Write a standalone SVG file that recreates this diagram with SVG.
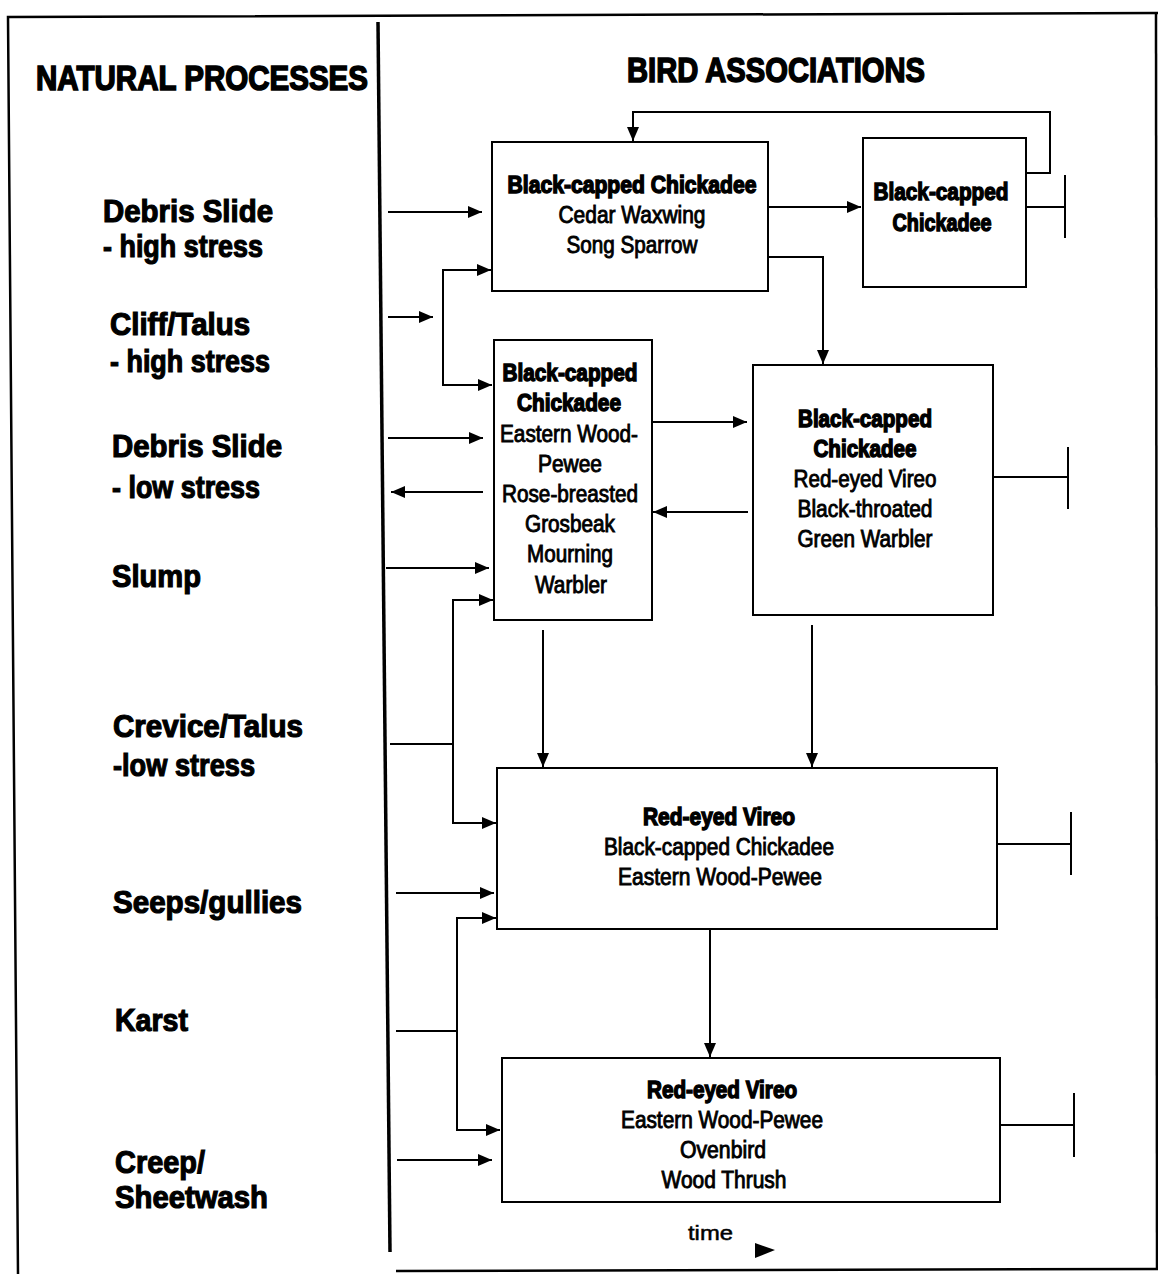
<svg xmlns="http://www.w3.org/2000/svg" width="1158" height="1274" viewBox="0 0 1158 1274">
  <style>
    .frame { fill: none; stroke: #000; stroke-width: 2.5; }
    .divider { fill: none; stroke: #000; stroke-width: 3.5; }
    .box { fill: #fff; stroke: #000; stroke-width: 2; }
    .conn { fill: none; stroke: #000; stroke-width: 2; }
    .hd { font-family: "Liberation Sans", Arial, sans-serif; font-weight: bold; font-size: 35px; fill: #000; stroke: #000; stroke-width: 1.6; }
    .lbl { font-family: "Liberation Sans", Arial, sans-serif; font-weight: bold; font-size: 32px; fill: #000; stroke: #000; stroke-width: 1.2; }
    .bh { font-family: "Liberation Sans", Arial, sans-serif; font-weight: bold; font-size: 23px; fill: #000; stroke: #000; stroke-width: 1.4; text-anchor: middle; }
    .br { font-family: "Liberation Sans", Arial, sans-serif; font-weight: normal; font-size: 23px; fill: #000; stroke: #000; stroke-width: 0.9; text-anchor: middle; }
    .tm { font-family: "Liberation Sans", Arial, sans-serif; font-weight: normal; font-size: 21px; fill: #000; stroke: #000; stroke-width: 0.5; }
  </style>
  <defs>
    <marker id="arrow" viewBox="0 0 14 12" refX="14" refY="6" markerWidth="14" markerHeight="12" markerUnits="userSpaceOnUse" orient="auto">
      <path d="M0,0 L14,6 L0,12 z" fill="#000"/>
    </marker>
  </defs>

  <rect x="0" y="0" width="1158" height="1274" fill="#fff"/>

  <!-- outer frame and column divider -->
  <g id="frame">
    <path class="frame" d="M18,1274 L8,17 L1158,13"/>
    <path class="frame" d="M1156,13 L1157,1268"/>
    <path class="frame" d="M396,1271 L1158,1269"/>
    <path class="divider" d="M378,22 L390,1252"/>
  </g>

  <!-- column headings -->
  <g id="headings">
    <text class="hd" x="36" y="90" textLength="332" lengthAdjust="spacingAndGlyphs">NATURAL PROCESSES</text>
    <text class="hd" x="627" y="82" textLength="298" lengthAdjust="spacingAndGlyphs">BIRD ASSOCIATIONS</text>
  </g>

  <!-- natural process labels -->
  <g id="proc-debris-high">
    <text class="lbl" x="103" y="222" textLength="170" lengthAdjust="spacingAndGlyphs">Debris Slide</text>
    <text class="lbl" x="103" y="257" textLength="160" lengthAdjust="spacingAndGlyphs">- high stress</text>
  </g>
  <g id="proc-cliff">
    <text class="lbl" x="110" y="335" textLength="140" lengthAdjust="spacingAndGlyphs">Cliff/Talus</text>
    <text class="lbl" x="110" y="372" textLength="160" lengthAdjust="spacingAndGlyphs">- high stress</text>
  </g>
  <g id="proc-debris-low">
    <text class="lbl" x="112" y="457" textLength="170" lengthAdjust="spacingAndGlyphs">Debris Slide</text>
    <text class="lbl" x="112" y="498" textLength="148" lengthAdjust="spacingAndGlyphs">- low stress</text>
  </g>
  <g id="proc-slump">
    <text class="lbl" x="112" y="587" textLength="89" lengthAdjust="spacingAndGlyphs">Slump</text>
  </g>
  <g id="proc-crevice">
    <text class="lbl" x="113" y="737" textLength="190" lengthAdjust="spacingAndGlyphs">Crevice/Talus</text>
    <text class="lbl" x="113" y="776" textLength="142" lengthAdjust="spacingAndGlyphs">-low stress</text>
  </g>
  <g id="proc-seeps">
    <text class="lbl" x="113" y="913" textLength="189" lengthAdjust="spacingAndGlyphs">Seeps/gullies</text>
  </g>
  <g id="proc-karst">
    <text class="lbl" x="115" y="1031" textLength="73" lengthAdjust="spacingAndGlyphs">Karst</text>
  </g>
  <g id="proc-creep">
    <text class="lbl" x="115" y="1173" textLength="90" lengthAdjust="spacingAndGlyphs">Creep/</text>
    <text class="lbl" x="115" y="1208" textLength="153" lengthAdjust="spacingAndGlyphs">Sheetwash</text>
  </g>

  <!-- bird association boxes -->
  <g id="assoc-a">
    <rect class="box" x="492" y="142" width="276" height="149"/>
    <text class="bh" x="632" y="193" textLength="249" lengthAdjust="spacingAndGlyphs">Black-capped Chickadee</text>
    <text class="br" x="632" y="223" textLength="147" lengthAdjust="spacingAndGlyphs">Cedar Waxwing</text>
    <text class="br" x="632" y="253" textLength="131" lengthAdjust="spacingAndGlyphs">Song Sparrow</text>
  </g>
  <g id="assoc-b">
    <rect class="box" x="863" y="138" width="163" height="149"/>
    <text class="bh" x="941" y="200" textLength="135" lengthAdjust="spacingAndGlyphs">Black-capped</text>
    <text class="bh" x="942" y="231" textLength="99" lengthAdjust="spacingAndGlyphs">Chickadee</text>
  </g>
  <g id="assoc-c">
    <rect class="box" x="753" y="365" width="240" height="250"/>
    <text class="bh" x="865" y="427" textLength="134" lengthAdjust="spacingAndGlyphs">Black-capped</text>
    <text class="bh" x="865" y="457" textLength="103" lengthAdjust="spacingAndGlyphs">Chickadee</text>
    <text class="br" x="865" y="487" textLength="143" lengthAdjust="spacingAndGlyphs">Red-eyed Vireo</text>
    <text class="br" x="865" y="517" textLength="135" lengthAdjust="spacingAndGlyphs">Black-throated</text>
    <text class="br" x="865" y="547" textLength="135" lengthAdjust="spacingAndGlyphs">Green Warbler</text>
  </g>
  <g id="assoc-d">
    <rect class="box" x="494" y="340" width="158" height="280"/>
    <text class="bh" x="570" y="381" textLength="135" lengthAdjust="spacingAndGlyphs">Black-capped</text>
    <text class="bh" x="569" y="411" textLength="104" lengthAdjust="spacingAndGlyphs">Chickadee</text>
    <text class="br" x="569" y="442" textLength="138" lengthAdjust="spacingAndGlyphs">Eastern Wood-</text>
    <text class="br" x="570" y="472" textLength="64" lengthAdjust="spacingAndGlyphs">Pewee</text>
    <text class="br" x="570" y="502" textLength="136" lengthAdjust="spacingAndGlyphs">Rose-breasted</text>
    <text class="br" x="570" y="532" textLength="90" lengthAdjust="spacingAndGlyphs">Grosbeak</text>
    <text class="br" x="570" y="562" textLength="86" lengthAdjust="spacingAndGlyphs">Mourning</text>
    <text class="br" x="571" y="593" textLength="72" lengthAdjust="spacingAndGlyphs">Warbler</text>
  </g>
  <g id="assoc-e">
    <rect class="box" x="497" y="768" width="500" height="161"/>
    <text class="bh" x="719" y="825" textLength="152" lengthAdjust="spacingAndGlyphs">Red-eyed Vireo</text>
    <text class="br" x="719" y="855" textLength="230" lengthAdjust="spacingAndGlyphs">Black-capped Chickadee</text>
    <text class="br" x="720" y="885" textLength="204" lengthAdjust="spacingAndGlyphs">Eastern Wood-Pewee</text>
  </g>
  <g id="assoc-f">
    <rect class="box" x="502" y="1058" width="498" height="144"/>
    <text class="bh" x="722" y="1098" textLength="150" lengthAdjust="spacingAndGlyphs">Red-eyed Vireo</text>
    <text class="br" x="722" y="1128" textLength="202" lengthAdjust="spacingAndGlyphs">Eastern Wood-Pewee</text>
    <text class="br" x="723" y="1158" textLength="86" lengthAdjust="spacingAndGlyphs">Ovenbird</text>
    <text class="br" x="724" y="1188" textLength="125" lengthAdjust="spacingAndGlyphs">Wood Thrush</text>
  </g>

  <!-- connectors: process inputs, succession arrows and end bars -->
  <g id="connectors">
    <path class="conn" d="M388,212 L482,212" marker-end="url(#arrow)"/>
    <path class="conn" d="M388,317 L433,317" marker-end="url(#arrow)"/>
    <path class="conn" d="M443,270 L443,385"/>
    <path class="conn" d="M442,270 L491,270" marker-end="url(#arrow)"/>
    <path class="conn" d="M442,385 L492,385" marker-end="url(#arrow)"/>
    <path class="conn" d="M388,438 L483,438" marker-end="url(#arrow)"/>
    <path class="conn" d="M483,492 L391,492" marker-end="url(#arrow)"/>
    <path class="conn" d="M386,568 L489,568" marker-end="url(#arrow)"/>
    <path class="conn" d="M390,744 L453,744"/>
    <path class="conn" d="M453,600 L453,823"/>
    <path class="conn" d="M452,600 L493,600" marker-end="url(#arrow)"/>
    <path class="conn" d="M452,823 L496,823" marker-end="url(#arrow)"/>
    <path class="conn" d="M396,893 L494,893" marker-end="url(#arrow)"/>
    <path class="conn" d="M396,1031 L457,1031"/>
    <path class="conn" d="M457,918 L457,1130"/>
    <path class="conn" d="M456,918 L496,918" marker-end="url(#arrow)"/>
    <path class="conn" d="M456,1130 L500,1130" marker-end="url(#arrow)"/>
    <path class="conn" d="M397,1160 L492,1160" marker-end="url(#arrow)"/>

    <path class="conn" d="M768,207 L861,207" marker-end="url(#arrow)"/>
    <path class="conn" d="M768,257 L823,257 L823,364" marker-end="url(#arrow)"/>
    <path class="conn" d="M1026,173 L1050,173 L1050,112 L633,112 L633,141" marker-end="url(#arrow)"/>
    <path class="conn" d="M652,422 L747,422" marker-end="url(#arrow)"/>
    <path class="conn" d="M748,512 L653,512" marker-end="url(#arrow)"/>
    <path class="conn" d="M543,630 L543,767" marker-end="url(#arrow)"/>
    <path class="conn" d="M812,625 L812,767" marker-end="url(#arrow)"/>
    <path class="conn" d="M710,930 L710,1057" marker-end="url(#arrow)"/>

    <path class="conn" d="M1026,207 L1065,207 M1065,175 L1065,238"/>
    <path class="conn" d="M993,477 L1068,477 M1068,447 L1068,509"/>
    <path class="conn" d="M997,844 L1071,844 M1071,812 L1071,875"/>
    <path class="conn" d="M1000,1125 L1074,1125 M1074,1093 L1074,1157"/>
  </g>

  <!-- time axis -->
  <g id="time">
    <text class="tm" x="688" y="1240" textLength="45" lengthAdjust="spacingAndGlyphs">time</text>
    <path d="M755,1243 L775,1250 L755,1258 z" fill="#000"/>
  </g>
</svg>
